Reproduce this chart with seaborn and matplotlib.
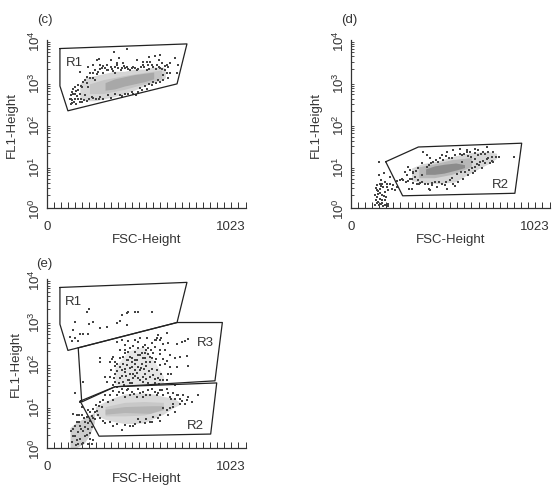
import numpy as np
import pandas as pd
import matplotlib
matplotlib.use("Agg")
import matplotlib.pyplot as plt
from matplotlib.ticker import LogLocator, NullFormatter, FixedLocator
import seaborn as sns

# all y values are log10(FL1-Height), x values are FSC-Height channels

# panel (c)
c_fsc = [348,415,257,267,214,240,274,308,331,373,462,557,582,528,497,514,531,497,522,579,
         660,677,634,625,608,634,668,625,600,574,548,528,505,480,437,403,377,351,274,269,
         231,219,197,171,146,134,128,123,146,163,128,140,163,171,123,146,180,188,209,223,
         236,248,265,283,300,317,334,351,368,385,403,420,437,454,471,514,548,565,582,591,
         360,394,351,291,248,214,617,459,
         125,135,150,158,170,132,150,178,118,160,174,195,205,225,240,258,272,290,312,328,
         342,362,380,398,415,428,445,462,485,500,525,540,560,575,595,610,620,600,585,560,
         540,515,490,470,445,420,385,330,315,290,255,240,205,190,180]
c_log = [3.70,3.79,3.52,3.53,3.36,3.40,3.40,3.40,3.52,3.56,3.52,3.62,3.63,3.60,3.48,3.48,3.48,3.41,3.41,3.52,
         3.56,3.40,3.44,3.36,3.28,3.22,3.22,3.10,3.16,3.04,3.00,2.94,2.90,2.86,2.76,2.72,2.68,2.72,2.64,2.59,
         2.64,2.60,2.68,3.24,2.88,2.84,2.76,2.68,2.72,2.80,2.56,2.52,2.60,2.52,2.46,2.60,2.88,3.00,3.12,3.10,
         3.20,3.28,3.24,3.32,3.33,3.28,3.30,3.36,3.32,3.33,3.32,3.30,3.33,3.33,3.30,3.28,3.36,3.40,3.32,3.44,
         3.44,3.44,3.20,3.20,3.04,2.88,3.40,2.68,
         2.60,2.70,2.78,2.66,2.70,2.50,2.47,2.60,2.58,2.92,2.90,3.05,2.98,3.22,3.10,3.18,3.30,3.38,3.27,3.36,
         3.26,3.40,3.27,3.38,3.36,3.28,3.36,3.28,3.36,3.36,3.30,3.40,3.30,3.36,3.30,3.38,3.22,3.05,3.00,2.96,
         2.92,2.84,2.80,2.76,2.70,2.72,2.66,2.62,2.68,2.60,2.58,2.62,2.55,2.56,2.52]
c_light_fsc = [170,200,250,300,350,400,450,500,550,600,610]
c_light_lo = [2.60,2.55,2.55,2.60,2.65,2.72,2.80,2.90,2.98,3.05,3.10]
c_light_hi = [2.95,3.10,3.15,3.20,3.25,3.25,3.30,3.30,3.35,3.35,3.30]
c_mid_fsc = [220,290,400,500,590]
c_mid_lo = [2.72,2.72,2.82,2.95,3.08]
c_mid_hi = [2.95,3.05,3.15,3.22,3.28]
c_core_fsc = [300,350,400,450,500,550]
c_core_lo = [2.80,2.83,2.90,2.95,3.00,3.07]
c_core_hi = [2.98,3.07,3.12,3.17,3.20,3.23]

# panel (d)
d_fsc = [146,173,146,156,134,151,163,185,202,219,125,134,151,168,134,151,163,176,125,142,
         156,176,194,194,228,159,142,176,236,254,202,
         373,391,408,425,468,493,528,562,596,613,639,656,699,682,707,733,762,841,725,699,
         690,665,639,605,570,536,505,476,451,733,673,639,630,605,579,553,528,536,493,442,
         408,403,382,356,339,322,296,313,288,305,296,279,262,271,322,391,368,348,433,468,
         510,313,300,348,365,331,416,588,656,622,570,716,622,485,
         130,140,150,160,170,185,145,165,180,128,155,210,240,175,135,190,
         320,335,305,285,350,368,395,420,455,490,520,545,565,610,640,660,680,705,640,620,
         585,560,520,490,460,440,415,400,600,670,690,745,650,725]
d_log = [1.10,0.82,0.78,0.66,0.54,0.58,0.58,0.58,0.58,0.54,0.30,0.42,0.46,0.50,0.26,0.22,0.18,0.18,0.08,0.14,
         0.10,0.08,0.05,0.42,0.42,0.30,0.34,0.38,0.63,0.66,0.74,
         1.33,1.27,1.19,1.10,1.25,1.32,1.37,1.40,1.37,1.33,1.41,1.37,1.45,1.32,1.32,1.32,1.21,1.21,1.21,1.17,
         1.06,1.10,1.17,1.24,1.25,1.25,1.19,1.13,1.10,1.10,0.94,0.98,0.82,0.78,0.70,0.62,0.58,0.52,0.44,0.50,
         0.42,0.44,0.58,0.60,0.58,0.60,0.63,0.70,0.78,0.90,0.98,0.86,0.70,0.66,0.82,0.98,1.06,0.94,0.62,0.58,
         0.66,0.44,0.44,0.66,0.78,0.74,0.54,0.86,1.25,1.10,1.10,1.06,0.94,0.54,
         0.20,0.40,0.35,0.12,0.28,0.50,0.06,0.04,0.25,0.48,0.52,0.46,0.50,0.62,0.12,0.10,
         0.85,0.88,0.70,0.62,0.56,0.62,0.56,0.60,0.62,0.62,0.72,0.80,0.85,0.90,0.88,1.02,1.12,1.20,1.30,1.22,
         1.28,1.28,1.20,1.24,1.18,1.15,1.06,1.03,1.33,1.28,1.28,1.22,1.05,1.12]
d_light_fsc = [313,365,451,536,622,707,750]
d_light_lo = [0.65,0.60,0.58,0.62,0.85,1.05,1.18]
d_light_hi = [0.95,1.05,1.12,1.24,1.32,1.34,1.30]
d_mid_fsc = [350,430,520,620]
d_mid_lo = [0.72,0.72,0.80,0.98]
d_mid_hi = [0.98,1.05,1.15,1.20]
d_core_fsc = [385,430,480,540,585]
d_core_lo = [0.80,0.80,0.83,0.90,0.96]
d_core_hi = [0.93,1.00,1.04,1.07,1.03]

# panel (e), upper clouds and R2 cloud
e_fsc = [219,209,146,218,240,137,214,274,312,363,377,411,385,411,420,454,471,540,120,146,171,188,163,128,
         573,590,565,556,582,616,625,668,693,710,727,274,274,342,325,351,385,402,428,453,479,471,517,539,522,
         496,556,582,608,633,659,685,719,668,727,633,608,582,556,531,505,479,453,428,402,376,359,333,325,299,
         308,351,385,411,436,462,488,513,539,565,590,625,616,582,556,531,505,479,453,428,402,376,351,393,419,
         445,471,496,522,556,376,359,419,488,453,505,548,411,436,471,531,342,659,188,428,
         359,385,411,436,471,496,522,556,582,616,650,685,719,745,702,668,633,599,565,531,496,462,428,393,359,
         325,291,274,256,239,222,214,248,282,316,342,265,248,291,325,359,385,428,453,479,513,548,582,616,650,
         685,659,625,582,531,471,779,145,171,179,137,154,179,205,222,196,171,154,188,214,231,137,162,196,222,
         239,171,145,214,162,188,231,
         370,385,395,410,425,440,455,465,480,495,510,525,545,570,345,360,375,390,405,420,
         440,455,470,495,510,520,540,560,580,600,620,640,600,575,350,335,400,420,445,470,
         505,535,560,600,390,510,485,445,430,500,
         300,340,370,400,420,450,480,510,540,570,595,625,640,660,675,695,710,725,650,635,
         600,570,540,505,445,400,340,300,275,260,235,270,
         125,130,145,155,165,175,180,195,205,150,135,210,225,240,190,165]
e_log = [3.29,3.23,2.98,2.93,2.98,2.79,2.71,2.85,2.87,2.95,3.01,2.90,3.15,3.19,3.23,3.23,3.21,3.21,2.63,2.60,2.69,2.71,2.53,2.53,
         2.68,2.61,2.61,2.56,2.56,2.72,2.48,2.45,2.52,2.53,2.57,2.14,2.03,2.16,2.04,2.04,2.56,2.44,2.36,2.56,2.61,2.52,2.60,2.48,2.36,
         2.40,2.40,2.32,2.32,2.20,2.12,2.16,2.18,1.92,1.94,1.92,2.00,1.96,2.04,2.16,2.24,2.20,2.28,2.16,2.24,2.12,2.00,1.84,1.68,1.68,
         1.57,1.76,1.84,1.96,2.04,2.08,2.00,2.04,1.88,1.84,1.76,1.76,1.60,1.60,1.64,1.68,1.76,1.84,1.84,1.76,1.80,1.65,1.57,1.57,1.60,
         1.65,1.65,1.57,1.53,1.53,2.32,2.52,2.53,2.24,2.08,2.12,2.24,2.08,1.92,1.92,2.04,1.49,1.49,1.57,1.53,
         1.44,1.40,1.37,1.33,1.40,1.33,1.37,1.33,1.37,1.40,1.29,1.17,1.13,1.09,1.25,1.25,1.21,1.25,1.25,1.25,1.21,1.21,1.25,1.29,1.25,
         1.25,1.13,1.09,1.01,0.93,0.85,0.89,0.85,0.97,1.09,1.13,0.77,0.69,0.65,0.61,0.57,0.43,0.53,0.57,0.61,0.69,0.73,0.77,0.89,0.97,
         1.05,0.85,0.77,0.65,0.61,0.69,1.26,1.29,1.10,0.97,0.81,0.77,0.77,0.73,0.65,0.61,0.53,0.61,0.41,0.45,0.49,0.45,0.37,0.29,0.21,
         0.18,0.21,0.29,0.10,0.10,0.13,0.10,
         1.55,1.70,1.50,1.70,1.62,1.55,1.70,1.78,1.60,1.68,1.64,1.82,1.72,1.65,1.66,1.82,1.92,2.00,1.88,2.08,
         2.14,1.98,2.20,2.12,1.94,2.22,2.14,2.10,2.22,2.10,2.05,1.75,1.62,1.52,1.95,2.10,2.32,2.28,2.42,2.36,
         2.44,2.32,2.55,2.45,2.16,2.32,1.90,1.76,1.90,1.86,
         1.25,1.36,1.33,1.20,1.40,1.27,1.30,1.25,1.40,1.30,1.38,1.30,1.15,1.17,1.25,1.12,1.05,1.20,1.05,0.95,
         0.95,0.70,0.62,0.58,0.52,0.54,0.52,0.58,0.72,0.88,0.75,1.00,
         0.40,0.15,0.52,0.20,0.62,0.45,0.10,0.50,0.30,0.08,0.28,0.60,0.35,0.70,0.70,0.78]
e_light_fsc = [250,300,350,400,450,500,550,600,650,680]
e_light_lo = [0.78,0.68,0.62,0.58,0.58,0.60,0.70,0.80,0.95,1.02]
e_light_hi = [0.98,1.10,1.20,1.28,1.30,1.30,1.28,1.22,1.18,1.10]
e_mid_fsc = [300,400,500,600]
e_mid_lo = [0.76,0.76,0.78,0.90]
e_mid_hi = [0.98,1.08,1.10,1.08]
e_core_fsc = [300,400,530,600]
e_core_lo = [0.80,0.84,0.82,0.92]
e_core_hi = [0.92,0.98,1.00,1.00]
e_low_fsc = [120,150,190,220,245]
e_low_lo = [0.00,0.00,0.10,0.30,0.60]
e_low_hi = [0.48,0.60,0.70,0.78,0.85]
e_r3_fsc = [350,420,500,560,600]
e_r3_lo = [1.50,1.50,1.50,1.50,1.50]
e_r3_hi = [1.90,2.30,2.40,2.00,1.70]

# gates (closed outlines)
r1_fsc = [68,721,670,109,68,68]
r1_log = [3.79,3.90,2.95,2.31,2.90,3.79]
r2_fsc = [180,348,879,844,267,180]
r2_log = [1.10,1.45,1.54,0.35,0.29,1.10]
r1e_log = [3.80,3.92,2.97,2.31,2.93,3.80]
r3_fsc = [162,670,903,865,351,180,162]
r3_log = [2.37,2.97,2.97,1.59,1.45,1.09,2.37]
r2e_fsc = [172,351,874,843,269,172]
r2e_log = [1.11,1.45,1.54,0.33,0.28,1.11]

x_ticklabels = ["0", "1023"]
y_ticklabels = ["10$^0$", "10$^1$", "10$^2$", "10$^3$", "10$^4$"]

sns.set_style("white")
plt.rcParams["font.family"] = ["Liberation Sans", "DejaVu Sans"]
plt.rcParams["mathtext.default"] = "regular"
ink = "#333333"
W, H = 554, 489


def make_axes(left, top, bottom, ypad, width=199):
    ax = plt.gcf().add_axes([left / W, 1 - bottom / H, width / W, (bottom - top) / H])
    ax.patch.set_alpha(0)
    ax.set_xlim(0, 1023)
    ax.set_yscale("log")
    ax.set_ylim(1, 1e4)
    sns.despine(ax=ax)
    for s in ["left", "bottom"]:
        ax.spines[s].set_linewidth(0.9)
        ax.spines[s].set_color(ink)
    ax.xaxis.set_major_locator(FixedLocator([0, 1023]))
    ax.set_xticklabels(x_ticklabels)
    ax.get_xticklabels()[1].set_ha("right")
    ax.xaxis.set_minor_locator(FixedLocator(np.arange(0, 1023, 36.5)))
    ax.yaxis.set_minor_locator(LogLocator(base=10, subs=np.arange(2, 10) / 1.0, numticks=6))
    ax.yaxis.set_minor_formatter(NullFormatter())
    ax.set_yticks([1, 10, 100, 1000, 10000])
    ax.set_yticklabels(y_ticklabels, rotation=90, va="center")
    ax.tick_params(axis="x", which="major", direction="in", length=0, labelsize=9.5, pad=9, colors=ink)
    ax.tick_params(axis="x", which="minor", direction="in", length=4, width=0.7, color=ink, bottom=True)
    ax.tick_params(axis="y", which="major", direction="in", length=5, width=0.8, labelsize=9.5, pad=3, colors=ink)
    ax.tick_params(axis="y", which="minor", direction="in", length=2.5, width=0.6, color=ink, left=True)
    ax.set_xlabel("FSC-Height", fontsize=9.5, color=ink, labelpad=0)
    ax.set_ylabel("FL1-Height", fontsize=9.5, color=ink, labelpad=ypad)
    return ax


def band(ax, fsc, lo, hi, color):
    ax.fill_between(fsc, 10 ** np.array(lo), 10 ** np.array(hi), color=color, lw=0, zorder=1)


def dots(ax, fsc, log_vals):
    df = pd.DataFrame({"fsc": fsc, "fl1": 10 ** np.array(log_vals)})
    sns.scatterplot(data=df, x="fsc", y="fl1", ax=ax, marker="s", s=3.6, color="#444444",
                    linewidth=0, zorder=3, clip_on=False)
    ax.set_xlabel("FSC-Height")
    ax.set_ylabel("FL1-Height")


def gate(ax, fsc, log_vals):
    ax.plot(fsc, 10 ** np.array(log_vals), color="#222222", lw=0.9, zorder=4)


def region(ax, x, log_val, name):
    ax.text(x, 10 ** log_val, name, fontsize=9.5, color=ink, ha="center", va="center")


fig = plt.figure(figsize=(W / 100, H / 100), dpi=100, facecolor="white")

ax_c = make_axes(46.7, 40.7, 209, 7)
band(ax_c, c_light_fsc, c_light_lo, c_light_hi, "#d6d6d6")
band(ax_c, c_mid_fsc, c_mid_lo, c_mid_hi, "#c4c4c4")
band(ax_c, c_core_fsc, c_core_lo, c_core_hi, "#a8a8a8")
dots(ax_c, c_fsc, c_log)
gate(ax_c, r1_fsc, r1_log)
region(ax_c, 145, 3.48, "R1")
fig.text(37 / W, 1 - 20 / H, "(c)", fontsize=9.5, color=ink, va="center")

ax_d = make_axes(350.7, 40.7, 209, 7)
band(ax_d, d_light_fsc, d_light_lo, d_light_hi, "#d6d6d6")
band(ax_d, d_mid_fsc, d_mid_lo, d_mid_hi, "#b8b8b8")
band(ax_d, d_core_fsc, d_core_lo, d_core_hi, "#8c8c8c")
dots(ax_d, d_fsc, d_log)
gate(ax_d, r2_fsc, r2_log)
region(ax_d, 772, 0.58, "R2")
fig.text(341 / W, 1 - 20 / H, "(d)", fontsize=9.5, color=ink, va="center")

ax_e = make_axes(46.7, 280, 449, 4)
band(ax_e, e_r3_fsc, e_r3_lo, e_r3_hi, "#e6e6e6")
band(ax_e, e_low_fsc, e_low_lo, e_low_hi, "#cccccc")
band(ax_e, e_light_fsc, e_light_lo, e_light_hi, "#d9d9d9")
band(ax_e, e_mid_fsc, e_mid_lo, e_mid_hi, "#c8c8c8")
band(ax_e, e_core_fsc, e_core_lo, e_core_hi, "#b4b4b4")
dots(ax_e, e_fsc, e_log)
gate(ax_e, r1_fsc, r1e_log)
gate(ax_e, r3_fsc, r3_log)
gate(ax_e, r2e_fsc, r2e_log)
region(ax_e, 140, 3.49, "R1")
region(ax_e, 814, 2.50, "R3")
region(ax_e, 762, 0.55, "R2")
fig.text(36 / W, 1 - 264 / H, "(e)", fontsize=9.5, color=ink, va="center")

fig.savefig("out.png", dpi=100)
